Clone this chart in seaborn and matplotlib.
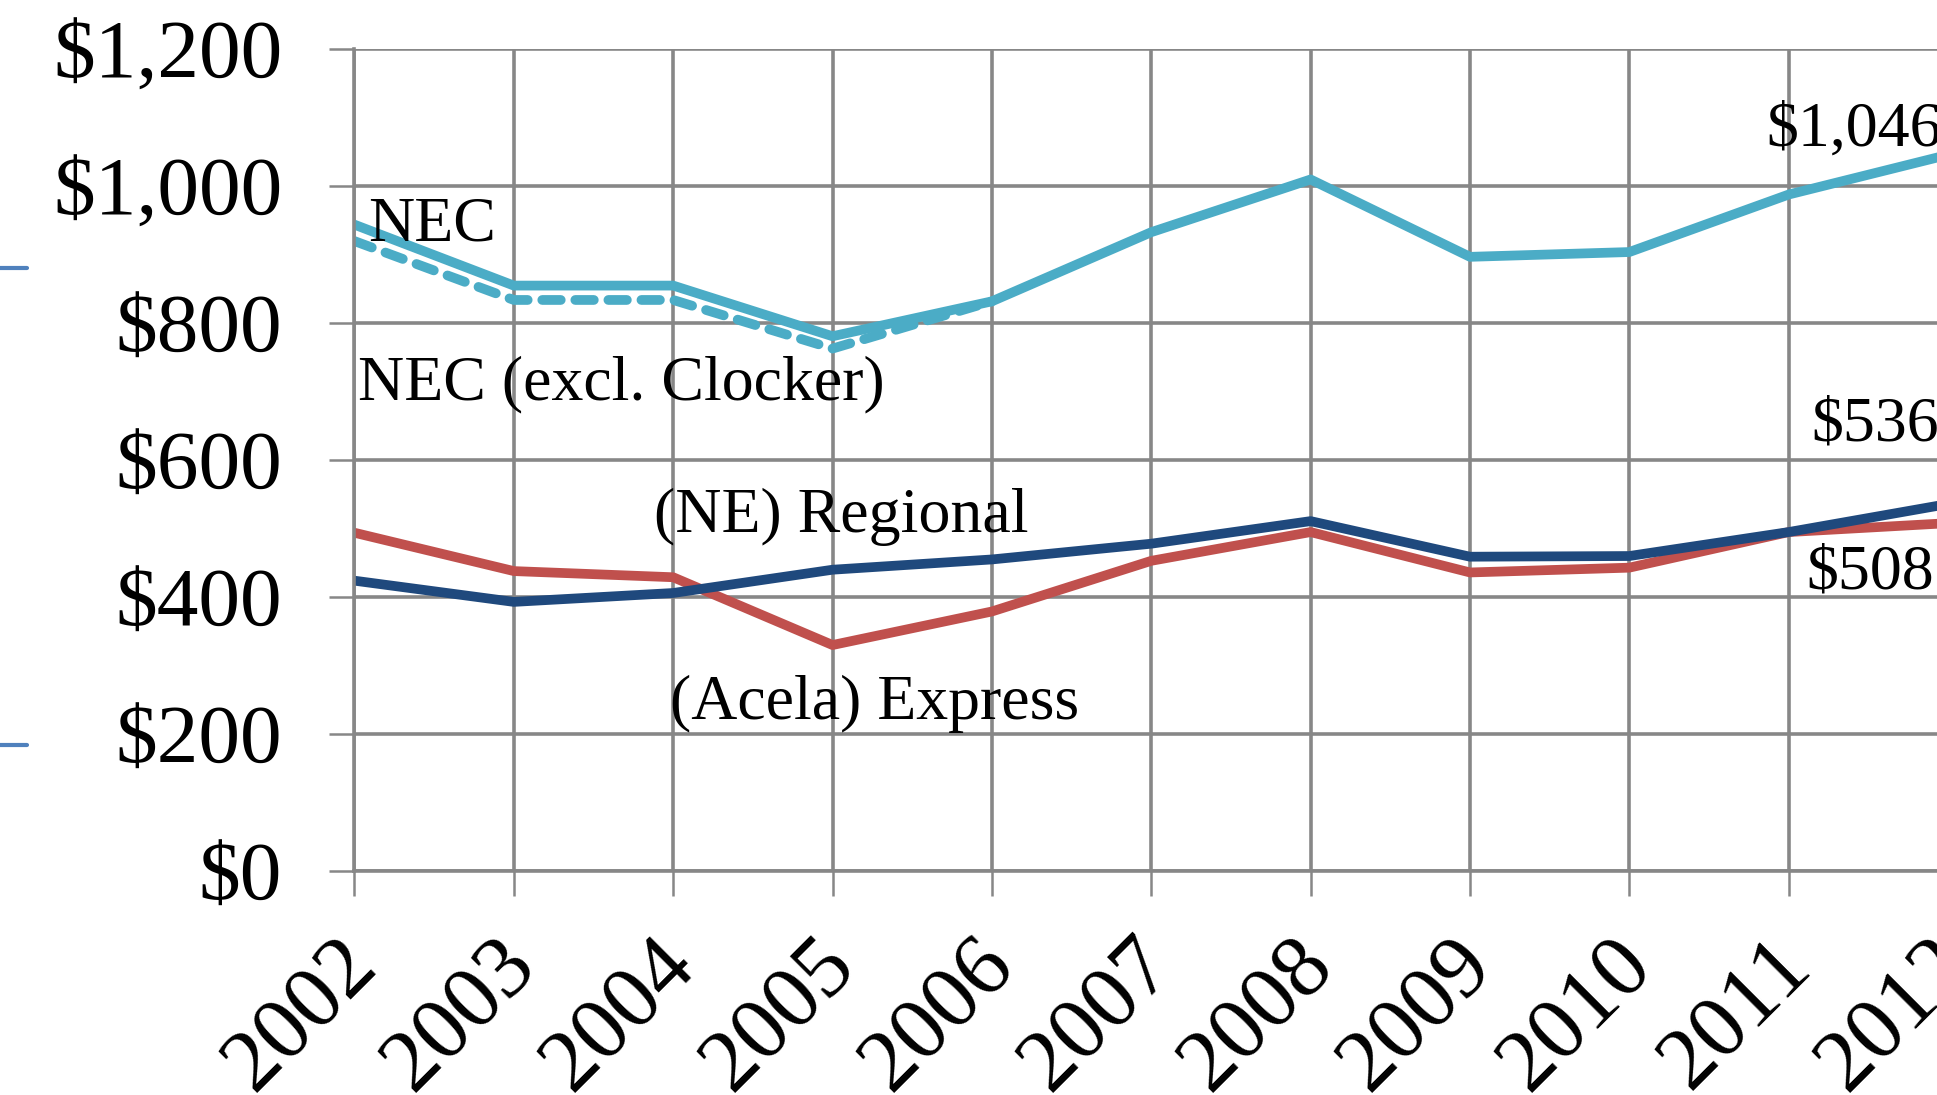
import matplotlib
matplotlib.use("Agg")
import matplotlib.pyplot as plt
import matplotlib.lines as mlines
import matplotlib.transforms as mtransforms
import pandas as pd
import seaborn as sns

# Values (average fare, $)
years = [2002, 2003, 2004, 2005, 2006, 2007, 2008, 2009, 2010, 2011, 2012]
nec = [944, 855, 855, 781, 832, 933, 1010, 897, 904, 988, 1046]
nec_excl_clocker = [920, 834, 834, 763, 832, None, None, None, None, None, None]
regional = [424, 393, 406, 440, 455, 478, 511, 459, 460, 495, 536]
express = [494, 438, 429, 330, 379, 453, 495, 436, 443, 495, 508]

y_ticks = [0, 200, 400, 600, 800, 1000, 1200]
y_tick_labels = ["$0", "$200", "$400", "$600", "$800", "$1,000", "$1,200"]

df = pd.DataFrame({
    "year": years,
    "nec": nec,
    "nec_excl": pd.array(nec_excl_clocker, dtype="Float64").astype(float),
    "regional": regional,
    "express": express,
})

sns.set_theme(style="white")
plt.rcParams["font.family"] = ["Liberation Serif", "DejaVu Serif"]
plt.rcParams["text.color"] = "black"

fig = plt.figure(figsize=(19.37, 10.95), dpi=100)
ax = fig.add_axes([0.183, 0.2046, 0.8227, 0.7503])

grid_color = "#878787"
lw = 7

sns.lineplot(data=df, x="year", y="express", ax=ax, color="#C0504D", linewidth=lw)
sns.lineplot(data=df, x="year", y="regional", ax=ax, color="#1F497D", linewidth=lw)
sns.lineplot(data=df, x="year", y="nec_excl", ax=ax, color="#4BACC6", linewidth=lw,
             linestyle=(0, (1.9, 1.5)), dash_capstyle="round")
sns.lineplot(data=df, x="year", y="nec", ax=ax, color="#4BACC6", linewidth=lw)

ax.set_xlim(2002, 2012)
ax.set_ylim(0, 1200)
ax.set_xlabel("")
ax.set_ylabel("")

ax.grid(True, color=grid_color, linewidth=2.6)
ax.set_axisbelow(True)
ax.tick_params(axis="both", direction="out", length=18, width=1.8, color=grid_color,
               labelcolor="black", left=True, bottom=True)
ax.tick_params(axis="y", pad=34)
ax.tick_params(axis="x", pad=30)
for side in ["top", "right"]:
    ax.spines[side].set_visible(False)
for side in ["left", "bottom"]:
    ax.spines[side].set_color(grid_color)
    ax.spines[side].set_linewidth(2.6)

ax.set_xticks(years)
ax.set_xticklabels([str(y) for y in years], rotation=45, ha="right",
                   rotation_mode="anchor", fontsize=64)
ax.set_yticks(y_ticks)
ax.set_yticklabels(y_tick_labels, fontsize=60)

# shift the year labels a little left/up like the original
offset = mtransforms.ScaledTranslation(-0.2, 0.14, fig.dpi_scale_trans)
for lab in ax.get_xticklabels():
    lab.set_transform(lab.get_transform() + offset)

# Series labels
label_size = 46
ax.text(2002.085, 943, "NEC", fontsize=label_size, va="center", ha="left", color="black")
ax.text(2002.02, 710, "NEC (excl. Clocker)", fontsize=label_size, va="center", ha="left", color="black")
ax.text(2003.88, 517, "(NE) Regional", fontsize=label_size, va="center", ha="left", color="black")
ax.text(2003.98, 244, "(Acela) Express", fontsize=label_size, va="center", ha="left", color="black")
ax.text(2010.86, 1082, "$1,046", fontsize=label_size, va="center", ha="left", color="black")
ax.text(2011.14, 650, "$536", fontsize=label_size, va="center", ha="left", color="black")
ax.text(2011.11, 434, "$508", fontsize=label_size, va="center", ha="left", color="black")

# small blue marks on the left edge
for yy in [0.7553, 0.3196]:
    fig.add_artist(mlines.Line2D([0, 0.014], [yy, yy], color="#4F81BD", linewidth=3,
                                 transform=fig.transFigure))

plt.savefig("out.png", dpi=100)
